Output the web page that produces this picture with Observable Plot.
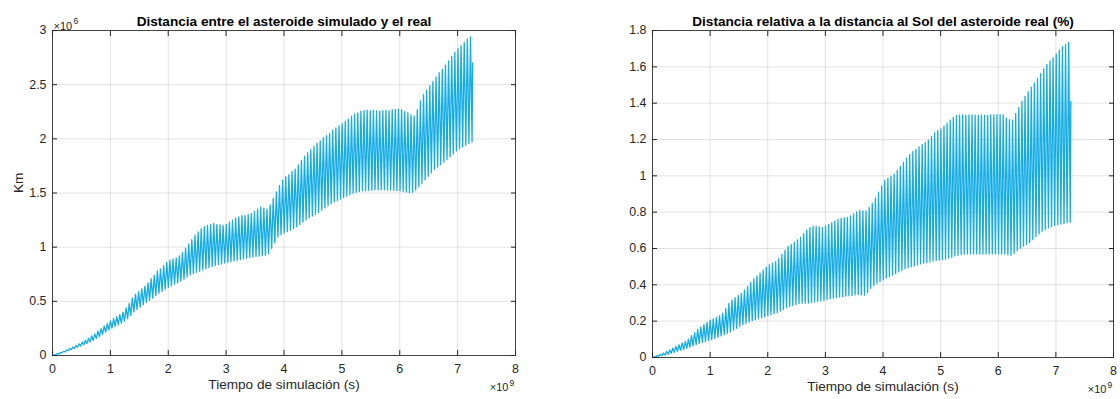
<!DOCTYPE html>
<html><head><meta charset="utf-8">
<script src="https://cdn.jsdelivr.net/npm/d3@7"></script>
<script src="https://cdn.jsdelivr.net/npm/@observablehq/plot@0.6"></script>
<style>
html,body{margin:0;padding:0;background:#fff}
body{width:1120px;height:399px;overflow:hidden;position:relative;font-family:"Liberation Sans",Arial,sans-serif}
.panel{position:absolute;top:0}
</style></head><body>
<div id="izq" class="panel" style="left:0"></div>
<div id="der" class="panel" style="left:560px"></div>
<script>
// Tiempo en unidades de 1e9 s; periodo de la oscilación
const periodo = 0.0541;
const tFinal = 7.26;

// Gráfico 1: distancia (×1e6 km) — máximos y mínimos de cada oscilación
const picosKm = [
 0.005,0.016,0.027,0.038,0.051,0.065,0.078,0.092,0.108,0.124,
 0.140,0.159,0.18,0.20,0.224,0.248,0.272,0.296,0.32,0.34,
 0.358,0.377,0.40,0.44,0.48,0.53,0.565,0.59,0.615,0.64,
 0.67,0.71,0.74,0.78,0.80,0.83,0.86,0.88,0.89,0.90,
 0.92,0.95,0.99,1.03,1.07,1.11,1.14,1.17,1.19,1.20,
 1.21,1.22,1.21,1.205,1.20,1.21,1.23,1.25,1.27,1.28,
 1.29,1.29,1.30,1.31,1.33,1.35,1.37,1.36,1.35,1.39,
 1.45,1.51,1.57,1.62,1.65,1.67,1.70,1.72,1.76,1.80,
 1.84,1.87,1.90,1.93,1.96,1.98,2.01,2.03,2.05,2.08,
 2.10,2.12,2.14,2.16,2.18,2.21,2.23,2.24,2.255,2.26,
 2.265,2.26,2.265,2.26,2.255,2.26,2.265,2.26,2.27,2.27,
 2.275,2.27,2.25,2.24,2.22,2.21,2.27,2.35,2.41,2.45,
 2.49,2.53,2.57,2.61,2.64,2.68,2.72,2.76,2.80,2.83,
 2.86,2.89,2.92,2.94];
const vallesKm = [
 0,0.008,0.016,0.024,0.034,0.044,0.055,0.066,0.077,0.087,
 0.098,0.109,0.125,0.14,0.157,0.175,0.195,0.215,0.235,0.253,
 0.268,0.283,0.297,0.318,0.34,0.37,0.403,0.425,0.446,0.468,
 0.49,0.51,0.53,0.555,0.574,0.593,0.612,0.63,0.644,0.658,
 0.671,0.686,0.705,0.724,0.743,0.757,0.768,0.779,0.79,0.80,
 0.811,0.822,0.832,0.839,0.846,0.853,0.86,0.866,0.873,0.879,
 0.886,0.892,0.899,0.905,0.91,0.913,0.918,0.922,0.926,0.94,
 0.99,1.04,1.095,1.115,1.13,1.144,1.158,1.171,1.188,1.21,
 1.231,1.253,1.271,1.287,1.303,1.319,1.341,1.362,1.384,1.404,
 1.417,1.43,1.444,1.458,1.471,1.485,1.498,1.506,1.513,1.52,
 1.522,1.524,1.527,1.529,1.53,1.53,1.53,1.53,1.528,1.525,
 1.523,1.52,1.514,1.509,1.503,1.507,1.528,1.558,1.59,1.622,
 1.654,1.686,1.719,1.741,1.762,1.784,1.807,1.834,1.861,1.888,
 1.909,1.925,1.941,1.958,1.97];
const finalKm = 2.70;

// Gráfico 2: distancia relativa (%)
const picosRel = [
 0.003,0.010,0.017,0.024,0.033,0.042,0.052,0.061,0.07,0.08,
 0.089,0.10,0.12,0.137,0.155,0.169,0.181,0.193,0.205,0.213,
 0.221,0.23,0.243,0.27,0.298,0.317,0.329,0.341,0.353,0.372,
 0.392,0.413,0.433,0.449,0.465,0.481,0.498,0.51,0.519,0.528,
 0.546,0.568,0.59,0.611,0.623,0.635,0.647,0.662,0.682,0.702,
 0.715,0.723,0.722,0.719,0.715,0.724,0.733,0.742,0.751,0.76,
 0.766,0.768,0.771,0.779,0.791,0.802,0.81,0.807,0.807,0.826,
 0.848,0.879,0.91,0.944,0.975,0.987,0.998,1.009,1.03,1.052,
 1.075,1.097,1.116,1.134,1.146,1.159,1.172,1.184,1.197,1.217,
 1.238,1.249,1.259,1.274,1.29,1.306,1.322,1.332,1.334,1.335,
 1.333,1.335,1.336,1.334,1.333,1.335,1.334,1.333,1.335,1.336,
 1.337,1.337,1.336,1.318,1.309,1.306,1.342,1.377,1.41,1.437,
 1.463,1.488,1.511,1.535,1.562,1.59,1.614,1.633,1.651,1.671,
 1.692,1.711,1.722,1.734];
const vallesRel = [
 0,0.003,0.006,0.01,0.013,0.018,0.023,0.028,0.033,0.039,
 0.044,0.05,0.057,0.064,0.071,0.078,0.083,0.088,0.093,0.098,
 0.105,0.112,0.119,0.126,0.133,0.141,0.151,0.161,0.171,0.18,
 0.188,0.195,0.202,0.208,0.213,0.219,0.224,0.23,0.236,0.241,
 0.247,0.256,0.265,0.274,0.281,0.286,0.292,0.297,0.299,0.30,
 0.30,0.303,0.306,0.309,0.311,0.315,0.319,0.324,0.327,0.329,
 0.333,0.335,0.338,0.34,0.342,0.345,0.347,0.346,0.343,0.357,
 0.381,0.396,0.408,0.419,0.428,0.437,0.446,0.454,0.463,0.472,
 0.48,0.488,0.494,0.499,0.504,0.51,0.515,0.519,0.522,0.526,
 0.531,0.535,0.536,0.539,0.542,0.547,0.552,0.56,0.563,0.567,
 0.57,0.57,0.57,0.57,0.57,0.57,0.57,0.57,0.57,0.57,
 0.57,0.57,0.57,0.57,0.566,0.563,0.572,0.588,0.602,0.613,
 0.623,0.633,0.649,0.665,0.681,0.695,0.706,0.714,0.721,0.727,
 0.731,0.735,0.738,0.742,0.745];
const finalRel = 1.41;

const ticksX = [0,1,2,3,4,5,6,7,8];
const ticksKm = [0,0.5,1,1.5,2,2.5,3];
const ticksRel = [0,0.2,0.4,0.6,0.8,1,1.2,1.4,1.6,1.8];
const tituloKm = "Distancia entre el asteroide simulado y el real";
const tituloRel = "Distancia relativa a la distancia al Sol del asteroide real (%)";
const etiquetaX = "Tiempo de simulación (s)";
const etiquetaYKm = "Km";
const exponenteX = "9";
const exponenteKm = "6";

function serie(picos, valles, fin) {
  const out = [];
  valles.forEach((v, i) => {
    out.push({t: i * periodo, v});
    if (i < picos.length) out.push({t: (i + 0.5) * periodo, v: picos[i]});
  });
  out.push({t: tFinal, v: fin});
  return out;
}

const INK = "#262626";
const LINEA = "#14ace4";
const FS = 12.4, FL = 13.6;

function grafico({datos, ticksY, domY, titulo, yLabel, yExp, mL, mR, mB}) {
  const marks = [
    Plot.gridX(ticksX, {stroke: INK, strokeOpacity: 0.13, strokeWidth: 1}),
    Plot.gridY(ticksY, {stroke: INK, strokeOpacity: 0.13, strokeWidth: 1}),
    Plot.line(datos, {x: "t", y: "v", stroke: LINEA, strokeWidth: 1.3}),
    Plot.frame({stroke: INK, strokeWidth: 1, strokeOpacity: 0.85}),
    Plot.axisX(ticksX, {anchor: "bottom", tickSize: -5, tickPadding: 14, tickFormat: d => String(d), fontSize: FS, fill: INK, stroke: INK, label: null}),
    Plot.axisX(ticksX, {anchor: "top", tickSize: -5, tickFormat: () => "", stroke: INK, label: null}),
    Plot.axisY(ticksY, {anchor: "left", tickSize: -5, tickPadding: 11, tickFormat: d => String(d), fontSize: FS, fill: INK, stroke: INK, label: null}),
    Plot.axisY(ticksY, {anchor: "right", tickSize: -5, tickFormat: () => "", stroke: INK, label: null}),
    Plot.text([titulo], {text: d => d, frameAnchor: "top", dy: -14, fontWeight: "bold", fontSize: FL, fill: "#000"}),
    Plot.text([etiquetaX], {text: d => d, frameAnchor: "bottom", dy: 33, fontSize: FL, fill: INK}),
    Plot.text(["×10"], {text: d => d, frameAnchor: "bottom-right", textAnchor: "end", dx: -7, dy: 35, fontSize: 11, fill: INK}),
    Plot.text([exponenteX], {text: d => d, frameAnchor: "bottom-right", textAnchor: "start", dx: -6, dy: 30, fontSize: 8.5, fill: INK})
  ];
  if (yLabel) marks.push(Plot.text([yLabel], {text: d => d, frameAnchor: "left", dx: -34, rotate: -90, fontSize: FL, fill: INK}));
  if (yExp) {
    marks.push(Plot.text(["×10"], {text: d => d, frameAnchor: "top-left", textAnchor: "start", dx: 1, dy: -8, fontSize: 11, fill: INK}));
    marks.push(Plot.text([yExp], {text: d => d, frameAnchor: "top-left", textAnchor: "start", dx: 21, dy: -13, fontSize: 8.5, fill: INK}));
  }
  return Plot.plot({
    width: 560, height: 399,
    marginLeft: mL, marginRight: mR, marginTop: 30, marginBottom: mB,
    style: {fontFamily: "'Liberation Sans', Arial, sans-serif", background: "#fff", overflow: "visible"},
    x: {domain: [0, 8]},
    y: {domain: domY},
    marks
  });
}

document.getElementById("izq").append(grafico({
  datos: serie(picosKm, vallesKm, finalKm), ticksY: ticksKm, domY: [0, 3],
  titulo: tituloKm, yLabel: etiquetaYKm, yExp: exponenteKm, mL: 52, mR: 45, mB: 44
}));
document.getElementById("der").append(grafico({
  datos: serie(picosRel, vallesRel, finalRel), ticksY: ticksRel, domY: [0, 1.8],
  titulo: tituloRel, yLabel: null, yExp: null, mL: 92, mR: 7, mB: 42
}));
</script>
</body></html>
